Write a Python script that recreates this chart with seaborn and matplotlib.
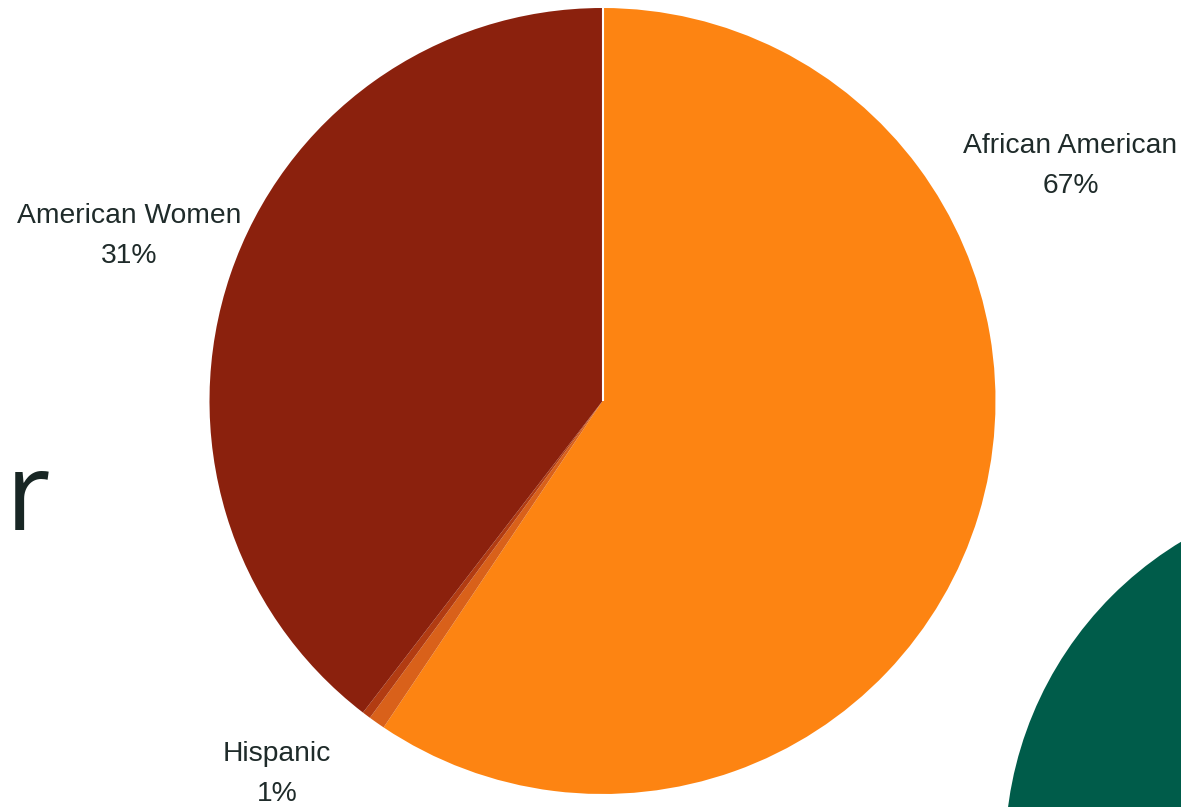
import matplotlib
matplotlib.use("Agg")
import matplotlib.pyplot as plt
import seaborn as sns
from matplotlib.patches import Circle

# ---- data ----
groups = ["African American", "Hispanic", "Other", "American Women"]
shares = [59.4, 0.68, 0.35, 39.57]          # slice sizes
label_names = ["African American", "Hispanic", "", "American Women"]
label_pcts = ["67%", "1%", "", "31%"]        # percentages printed on the chart
colors = ["#FD8412", "#D9611A", "#B23C12", "#8B210D"]

sns.set_theme(style="white")
plt.rcParams["font.family"] = ["Liberation Sans", "DejaVu Sans"]

W, H = 1181, 807
fig = plt.figure(figsize=(W / 100, H / 100), dpi=100)
fig.patch.set_facecolor("white")

# background decoration axes in pixel coordinates
bg = fig.add_axes([0, 0, 1, 1])
bg.set_xlim(0, W)
bg.set_ylim(H, 0)
bg.axis("off")
bg.add_patch(Circle((1370, 854), 365, color="#005C4A", lw=0))
bg.text(6, 530, "r", fontsize=78, family=["Open Sans", "DejaVu Sans"],
        color="#182624", ha="left", va="baseline", fontweight="medium")

# pie axes
cx, cy, r = 602.5, 401, 393
ax = fig.add_axes([(cx - r) / W, (H - cy - r) / H, 2 * r / W, 2 * r / H])
ax.pie(shares, colors=colors, startangle=90, counterclock=False,
       radius=1, wedgeprops=dict(linewidth=0))
ax.set_xlim(-1, 1)
ax.set_ylim(-1, 1)
ax.set_aspect("equal")
ax.axis("off")

# white separator at the top
ax.plot([0, 0], [0, 1], color="white", lw=1.5, solid_capstyle="butt")

# labels
label_pos = {"African American": (1070.5, 166),
             "American Women": (129, 236),
             "Hispanic": (277, 774)}
for name, pct in zip(label_names, label_pcts):
    if not name:
        continue
    x, y = label_pos[name]
    fig.text(x / W, 1 - y / H, f"{name}\n{pct}", ha="center", va="center",
             fontsize=20.3, color="#1F2B2A", linespacing=1.7)

fig.savefig("out.png", dpi=100, facecolor="white")
